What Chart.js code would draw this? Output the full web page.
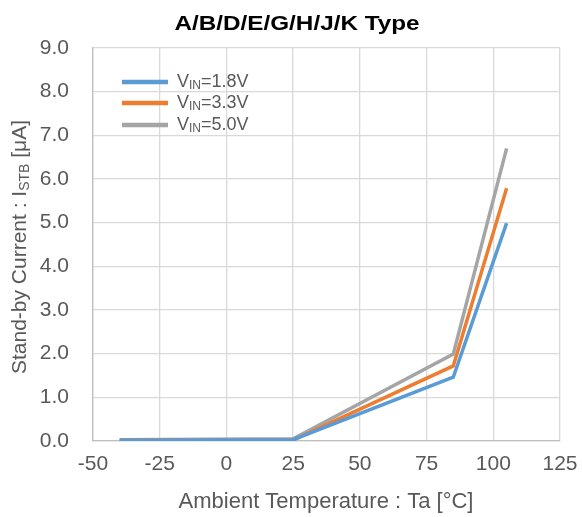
<!DOCTYPE html>
<html><head><meta charset="utf-8">
<script src="https://cdn.jsdelivr.net/npm/chart.js@4"></script>
<style>html,body{margin:0;padding:0;background:#fff}#wrap{width:582px;height:517px}</style>
</head><body><div id="wrap"><canvas id="c" width="582" height="517"></canvas></div>
<script>
const temperatures = [-40, 25, 85, 105];
const vin18 = [0.02, 0.03, 1.46, 4.99];
const vin33 = [0.02, 0.02, 1.72, 5.79];
const vin50 = [0.03, 0.05, 1.99, 6.70];
const seriesLabels = ['1.8V', '3.3V', '5.0V'];
const seriesColors = ['#5B9BD5', '#ED7D31', '#A5A5A5'];
const xTicks = [-50, -25, 0, 25, 50, 75, 100, 125];
const yTicks = [0, 1, 2, 3, 4, 5, 6, 7, 8, 9];
const titleText = 'A/B/D/E/G/H/J/K Type';

const FONT = '"Liberation Sans", Arial, sans-serif';
const TXT = '#595959';

const mk = (vals) => temperatures.map((t, i) => ({x: t, y: vals[i]}));
const series = [vin18, vin33, vin50];

const deco = {
  id: 'deco',
  afterDraw(chart) {
    const ctx = chart.ctx;
    ctx.save();
    ctx.fillStyle = '#000';
    ctx.font = 'bold 21px ' + FONT;
    ctx.textAlign = 'center';
    ctx.textBaseline = 'middle';
    const tw = ctx.measureText(titleText).width;
    ctx.save();
    ctx.translate(297, 24);
    ctx.scale(245 / tw, 1);
    ctx.fillText(titleText, 0, 0);
    ctx.restore();
    ctx.fillStyle = TXT;
    ctx.font = '22px ' + FONT;
    ctx.fillText('Ambient Temperature : Ta [\u00B0C]', 326, 502);
    ctx.translate(20, 247);
    ctx.rotate(-Math.PI / 2);
    const p1 = 'Stand-by Current : I', sub = 'STB', p2 = ' [\u03BCA]';
    ctx.font = '21px ' + FONT; const w1 = ctx.measureText(p1).width, w3 = ctx.measureText(p2).width;
    ctx.font = '14px ' + FONT; const w2 = ctx.measureText(sub).width;
    let x0 = -(w1 + w2 + w3) / 2;
    ctx.textAlign = 'left';
    ctx.font = '21px ' + FONT; ctx.fillText(p1, x0, 0);
    ctx.font = '14px ' + FONT; ctx.fillText(sub, x0 + w1, 5);
    ctx.font = '21px ' + FONT; ctx.fillText(p2, x0 + w1 + w2, 0);
    ctx.restore();
    ctx.save();
    const rows = [82, 103, 125];
    chart.data.datasets.forEach((ds, i) => {
      const y = rows[i];
      ctx.strokeStyle = ds.borderColor; ctx.lineWidth = 4.5;
      ctx.beginPath(); ctx.moveTo(122, y); ctx.lineTo(168, y); ctx.stroke();
      ctx.fillStyle = TXT; ctx.textBaseline = 'middle'; ctx.textAlign = 'left';
      ctx.font = '18px ' + FONT; ctx.fillText('V', 177, y);
      const wv = ctx.measureText('V').width;
      ctx.font = '12px ' + FONT; ctx.fillText('IN', 177 + wv, y + 4);
      const wi = ctx.measureText('IN').width;
      ctx.font = '18px ' + FONT; ctx.fillText('=' + seriesLabels[i], 177 + wv + wi, y);
    });
    ctx.restore();
  }
};

new Chart(document.getElementById('c'), {
  type: 'line',
  data: {
    datasets: series.map((s, i) => ({
      label: 'VIN=' + seriesLabels[i],
      data: mk(s),
      borderColor: seriesColors[i],
      backgroundColor: seriesColors[i],
      borderWidth: 3.5,
      pointRadius: 0,
      tension: 0,
      fill: false
    }))
  },
  options: {
    responsive: false,
    animation: false,
    layout: {padding: {left: 0, right: 22, top: 48, bottom: 0}},
    plugins: {legend: {display: false}, title: {display: false}, tooltip: {enabled: false}},
    scales: {
      x: {
        type: 'linear', min: -50, max: 125,
        afterBuildTicks: (s) => { s.ticks = xTicks.map(v => ({value: v})); },
        afterFit: (s) => { s.height = 76; s.paddingRight = 0; s.paddingLeft = 0; },
        grid: {color: '#D9D9D9', lineWidth: 1.3, drawTicks: false},
        border: {color: '#BFBFBF', width: 1.3},
        ticks: {color: TXT, font: {family: FONT, size: 21}, padding: 11, maxRotation: 0}
      },
      y: {
        type: 'linear', min: 0, max: 9,
        afterBuildTicks: (s) => { s.ticks = yTicks.map(v => ({value: v})); },
        afterFit: (s) => { s.width = 93; s.paddingTop = 0; s.paddingBottom = 0; },
        grid: {color: '#D9D9D9', lineWidth: 1.3, drawTicks: false},
        border: {color: '#BFBFBF', width: 1.3},
        ticks: {color: TXT, font: {family: FONT, size: 21}, padding: 24, callback: (v) => v.toFixed(1)}
      }
    }
  },
  plugins: [deco]
});
</script></body></html>
